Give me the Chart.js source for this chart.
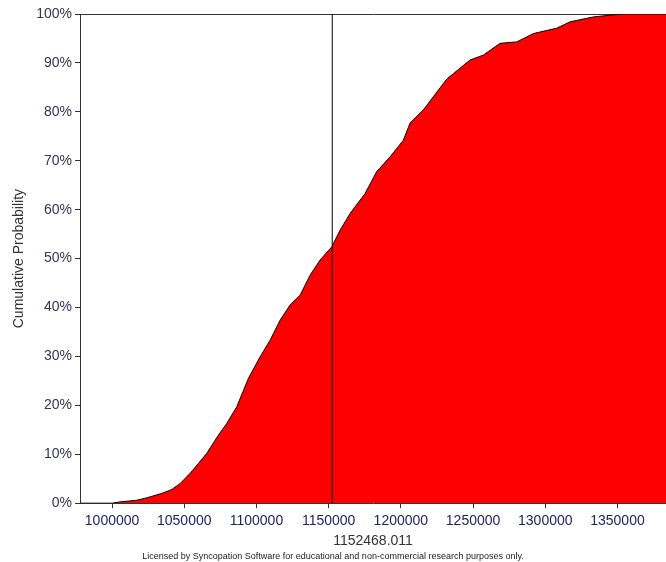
<!DOCTYPE html>
<html>
<head>
<meta charset="utf-8">
<script src="https://cdn.jsdelivr.net/npm/chart.js@4/dist/chart.umd.min.js"></script>
<style>
html,body{margin:0;padding:0;background:#fff;}
#wrap{width:666px;height:562px;position:relative;}
</style>
</head>
<body>
<div id="wrap"><canvas id="c" width="666" height="562"></canvas></div>
<script>
// Cumulative distribution
const cdfValues = [977800, 1000000, 1005540, 1017100, 1024030, 1034420, 1041340, 1047090, 1054020, 1059760, 1065580, 1073620, 1079430, 1086360, 1094390, 1102490, 1109420, 1116340, 1123270, 1130190, 1137120, 1144040, 1152150, 1157890, 1164820, 1175210, 1183310, 1192520, 1201730, 1206370, 1215580, 1222510, 1231790, 1247920, 1257130, 1268700, 1280260, 1291760, 1307960, 1317180, 1333310, 1349490, 1355240, 1383600];
const cdfPercents = [0, 0, 0.27, 0.6, 1.1, 2.0, 2.8, 4.0, 6.1, 8.1, 10.2, 13.9, 16.3, 19.7, 25.5, 29.9, 33.3, 37.4, 40.5, 42.5, 46.6, 49.7, 52.4, 55.8, 59.2, 63.3, 67.8, 70.8, 74.2, 77.7, 80.4, 83.1, 86.7, 90.6, 91.6, 94.0, 94.3, 96.0, 97.1, 98.4, 99.4, 99.9, 100, 100];
const markerValue = 1152468.011;
const markerLabel = "1152468.011";
const xTickValues = [1000000, 1050000, 1100000, 1150000, 1200000, 1250000, 1300000, 1350000];
const yTickValues = [0, 10, 20, 30, 40, 50, 60, 70, 80, 90, 100];
const xMin = 977800, xMax = 1383600;
const yAxisTitle = "Cumulative Probability";
const footerText = "Licensed by Syncopation Software for educational and non-commercial research purposes only.";

const curve = cdfValues.map((v, i) => ({x: v, y: cdfPercents[i]}));
const marker = [{x: markerValue, y: 0}, {x: markerValue, y: 100}];

const FONT = "'Liberation Sans', Arial, sans-serif";

new Chart(document.getElementById('c'), {
  type: 'line',
  data: {
    datasets: [
      {
        data: curve,
        order: 2,
        borderColor: '#000000',
        borderWidth: 1,
        backgroundColor: '#ff0000',
        fill: 'origin',
        pointRadius: 0,
        tension: 0
      },
      {
        data: marker,
        order: 1,
        borderColor: '#000000',
        borderWidth: 1,
        fill: false,
        pointRadius: 0
      }
    ]
  },
  options: {
    responsive: false,
    animation: false,
    layout: {padding: {top: 14, right: 0, left: 0, bottom: 0}},
    plugins: {
      legend: {display: false},
      tooltip: {enabled: false},
      subtitle: {
        display: true,
        position: 'bottom',
        text: footerText,
        color: '#222222',
        font: {family: FONT, size: 9},
        padding: {top: 0, bottom: 0}
      }
    },
    scales: {
      x: {
        type: 'linear',
        min: xMin,
        max: xMax,
        afterBuildTicks: s => { s.ticks = xTickValues.map(v => ({value: v})); },
        afterFit: s => { s.height = 48; },
        ticks: {
          color: '#222266',
          font: {family: FONT, size: 14},
          padding: 5,
          maxRotation: 0,
          callback: v => String(v)
        },
        grid: {
          drawOnChartArea: false,
          drawTicks: true,
          tickLength: 5,
          tickColor: '#333333'
        },
        border: {display: true, color: '#333333', width: 1},
        title: {
          display: true,
          text: markerLabel,
          color: '#333333',
          font: {family: FONT, size: 14},
          padding: {top: 2, bottom: 2}
        }
      },
      y: {
        type: 'linear',
        min: 0,
        max: 100,
        afterBuildTicks: s => { s.ticks = yTickValues.map(v => ({value: v})); },
        afterFit: s => { s.width = 80; },
        ticks: {
          color: '#333355',
          font: {family: FONT, size: 14},
          padding: 3,
          callback: v => v + '%'
        },
        grid: {
          color: ctx => (ctx.tick && ctx.tick.value === 100) ? '#333333' : 'rgba(0,0,0,0)',
          drawTicks: true,
          tickLength: 5,
          tickColor: '#333333'
        },
        border: {display: true, color: '#333333', width: 1},
        title: {
          display: true,
          text: yAxisTitle,
          color: '#333333',
          font: {family: FONT, size: 14},
          padding: {top: 11, bottom: 0}
        }
      }
    }
  }
});
</script>
</body>
</html>
